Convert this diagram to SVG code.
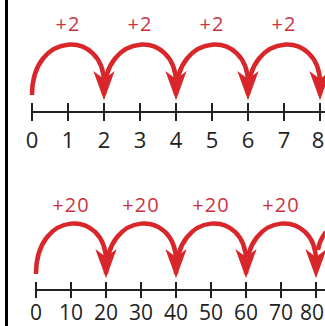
<svg xmlns="http://www.w3.org/2000/svg" width="325" height="326" viewBox="0 0 325 326">
  <style>
    .arc { fill: none; stroke: #d9262b; stroke-width: 4.5; stroke-linecap: butt; marker-end: url(#head); }
    .axis { stroke: #222; stroke-width: 2; fill: none; }
    .num { font-family: "Open Sans", "Liberation Sans", sans-serif; font-size: 22px; fill: #222; text-anchor: middle; }
    .num2 { font-size: 21px; }
    .step { font-family: "Open Sans", "Liberation Sans", sans-serif; font-size: 20px; fill: #cc3340; text-anchor: middle; letter-spacing: 1px; }
  </style>
  <defs>
    <marker id="head" markerUnits="userSpaceOnUse" markerWidth="40" markerHeight="40" viewBox="-12 -10 30 20" refX="0" refY="0" orient="auto" overflow="visible">
      <path d="M13,0 L-9,-8 L-3,0 L-9,8 Z" fill="#d9262b"/>
    </marker>
  </defs>
  <rect width="325" height="326" fill="#ffffff"/>
  <line x1="6.5" y1="0" x2="6.5" y2="326" stroke="#000" stroke-width="3"/>

  <g id="top-line">
    <path class="axis" d="M32,112 H325 M32,103 V121 M68,103 V121 M104,103 V121 M140,103 V121 M176,103 V121 M212,103 V121 M248,103 V121 M284,103 V121 M320,103 V121"/>
    <text class="num" x="32" y="148">0</text>
    <text class="num" x="68" y="148">1</text>
    <text class="num" x="104" y="148">2</text>
    <text class="num" x="140" y="148">3</text>
    <text class="num" x="176" y="148">4</text>
    <text class="num" x="212" y="148">5</text>
    <text class="num" x="248" y="148">6</text>
    <text class="num" x="284" y="148">7</text>
    <text class="num" x="318" y="148">8</text>
  </g>
  <g id="top-jumps">
    <path class="arc" d="M32,95 C32,30 104,30 104,83"/>
    <path class="arc" d="M104,95 C104,30 176,30 176,83"/>
    <path class="arc" d="M176,95 C176,30 248,30 248,83"/>
    <path class="arc" d="M248,95 C248,30 320,30 320,83"/>
    <text class="step" x="68" y="31">+2</text>
    <text class="step" x="140" y="31">+2</text>
    <text class="step" x="212" y="31">+2</text>
    <text class="step" x="284" y="31">+2</text>
  </g>

  <g id="bottom-line">
    <path class="axis" d="M36,290 H325 M36,282 V298 M71,282 V298 M106,282 V298 M141,282 V298 M176,282 V298 M211,282 V298 M246,282 V298 M281,282 V298 M316,282 V298"/>
    <text class="num num2" x="36" y="320">0</text>
    <text class="num num2" x="71" y="320">10</text>
    <text class="num num2" x="106" y="320">20</text>
    <text class="num num2" x="141" y="320">30</text>
    <text class="num num2" x="176" y="320">40</text>
    <text class="num num2" x="211" y="320">50</text>
    <text class="num num2" x="246" y="320">60</text>
    <text class="num num2" x="281" y="320">70</text>
    <text class="num num2" x="312" y="320">80</text>
  </g>
  <g id="bottom-jumps">
    <path class="arc" d="M36,274 C36,209 106,209 106,261"/>
    <path class="arc" d="M106,274 C106,209 176,209 176,261"/>
    <path class="arc" d="M176,274 C176,209 246,209 246,261"/>
    <path class="arc" d="M246,274 C246,209 316,209 316,261"/>
    <path d="M318,250 C319,243 322,237 326,232" fill="none" stroke="#d9262b" stroke-width="4.5"/>
    <text class="step" x="71" y="212">+20</text>
    <text class="step" x="141" y="212">+20</text>
    <text class="step" x="211" y="212">+20</text>
    <text class="step" x="281" y="212">+20</text>
  </g>
</svg>
